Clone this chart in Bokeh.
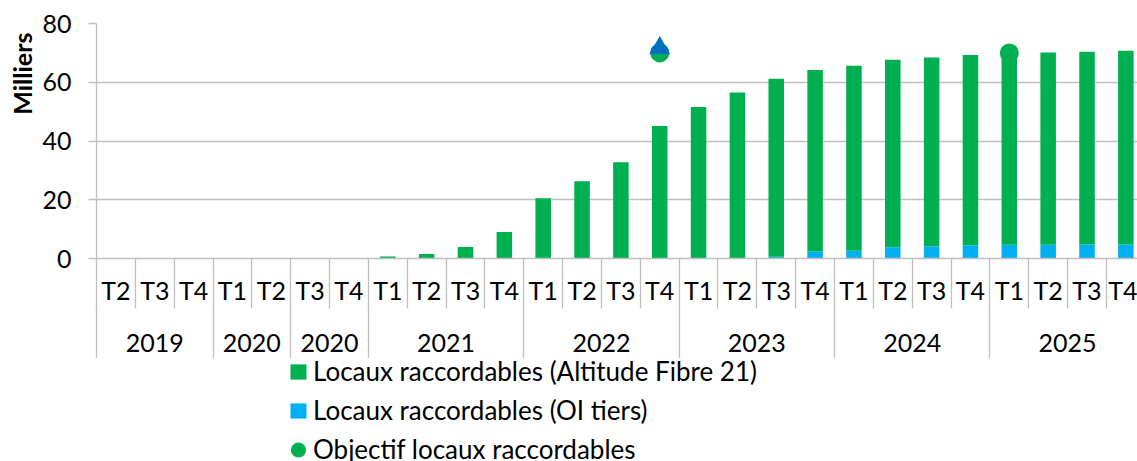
import numpy as np
from bokeh.plotting import figure
from bokeh.layouts import column
from bokeh.models import (ColumnDataSource, FixedTicker, LinearAxis, Range1d,
                          Legend, LegendItem, Title)
from bokeh.embed import file_html
from bokeh.resources import INLINE

# ---------------- data ----------------
year_groups = ["2019", "2020", "2020", "2021", "2022", "2023", "2024", "2025"]
group_sizes = [3, 2, 2, 4, 4, 4, 4, 4]
quarters = ["T2", "T3", "T4", "T1", "T2", "T3", "T4",
            "T1", "T2", "T3", "T4", "T1", "T2", "T3", "T4",
            "T1", "T2", "T3", "T4", "T1", "T2", "T3", "T4",
            "T1", "T2", "T3", "T4"]
altitude = [0, 0, 0, 0, 0, 0, 0,
            0.7, 1.5, 3.9, 9.0,
            20.5, 26.3, 32.8, 45.1,
            51.6, 56.5, 60.6, 61.7,
            63.0, 63.9, 64.2, 64.8,
            65.3, 65.4, 65.6, 65.9]
oi_tiers = [0, 0, 0, 0, 0, 0, 0,
            0, 0, 0, 0,
            0, 0, 0, 0,
            0, 0, 0.6, 2.5,
            2.6, 3.8, 4.2, 4.5,
            4.7, 4.7, 4.8, 4.8]
objectif = [None] * 14 + [70] + [None] * 8 + [70] + [None] * 3
marqueur_bleu = [None] * 14 + [71.6] + [None] * 12
series_labels = ["Locaux raccordables (Altitude Fibre 21)",
                 "Locaux raccordables (OI tiers)",
                 "Objectif locaux raccordables"]
y_ticks = [0, 20, 40, 60, 80]
y_title = "Milliers"

# ---------------- styles ----------------
GREEN = "#00B050"
BLUE = "#00B0F0"
DARKBLUE = "#0070C0"
GRID = "#BFBFBF"
FONT = "Lato"
FS = "25px"

n = len(quarters)
xs = np.arange(n, dtype=float)
obj = np.array([np.nan if v is None else v for v in objectif], dtype=float)
mb = np.array([np.nan if v is None else v for v in marqueur_bleu], dtype=float)

source = ColumnDataSource(dict(x=xs, oi=np.array(oi_tiers, float), alt=np.array(altitude, float)))
obj_src = ColumnDataSource(dict(x=xs, y=obj))
mask = ~np.isnan(mb)
drop_src = ColumnDataSource(dict(x=xs[mask], y=obj[mask], top=mb[mask]))

MAIN_H = 358
p = figure(width=1137, height=MAIN_H,
           x_range=Range1d(-0.5, 26.3), y_range=Range1d(0, 80),
           output_backend="svg", toolbar_location=None,
           x_axis_location=None,
           min_border_left=96, min_border_right=0,
           min_border_top=23, min_border_bottom=MAIN_H - 258)
p.outline_line_color = None
p.background_fill_color = "white"
p.border_fill_color = "white"
p.xgrid.visible = False
p.ygrid.grid_line_color = GRID
p.ygrid.grid_line_width = 1.3
p.ygrid.ticker = FixedTicker(ticks=y_ticks)

yax = p.yaxis[0]
yax.ticker = FixedTicker(ticks=y_ticks)
yax.axis_line_color = GRID
yax.axis_line_width = 1.3
yax.major_tick_line_color = GRID
yax.major_tick_line_width = 1.3
yax.major_tick_in = 0
yax.major_tick_out = 8
yax.minor_tick_line_color = None
yax.major_label_standoff = 17
yax.major_label_text_font = FONT
yax.major_label_text_font_size = FS
yax.major_label_text_color = "#000000"

# y title (left panel, aligned to the top)
p.add_layout(Title(text=y_title, align="right", offset=9, standoff=5,
                   text_font=FONT, text_font_size=FS, text_font_style="bold",
                   text_color="#000000"), "left")

# bars
bars = p.vbar_stack(["oi", "alt"], x="x", width=0.4, color=[BLUE, GREEN],
                    line_color=None, source=source)

# objective markers
p.scatter(x="x", y="y", source=obj_src, marker="circle", size=19,
          fill_color=GREEN, line_color=None)
p.wedge(x="x", y="y", source=drop_src, radius=9.5, radius_units="screen",
        start_angle=0, end_angle=np.pi, direction="anticlock",
        fill_color=DARKBLUE, line_color=None)
p.scatter(x="x", y="top", source=drop_src, marker="triangle", size=21,
          fill_color=DARKBLUE, line_color=None)

# category axes (quarters, then years)
boundaries = [i - 0.5 for i in range(n + 1)]
q_axis = LinearAxis(ticker=FixedTicker(ticks=list(range(n)), minor_ticks=boundaries),
                    major_label_overrides={i: q for i, q in enumerate(quarters)})
q_axis.axis_line_color = GRID
q_axis.axis_line_width = 1.3
q_axis.major_tick_line_color = None
q_axis.major_tick_in = 0
q_axis.major_tick_out = 0
q_axis.minor_tick_line_color = GRID
q_axis.minor_tick_line_width = 1.3
q_axis.minor_tick_in = 0
q_axis.minor_tick_out = 50
q_axis.major_label_standoff = -34
q_axis.major_label_text_font = FONT
q_axis.major_label_text_font_size = FS
q_axis.major_label_text_color = "#000000"
p.add_layout(q_axis, "below")

starts = np.cumsum([0] + group_sizes[:-1])
year_centers = [float(s + (g - 1) / 2) for s, g in zip(starts, group_sizes)]
year_bounds = [float(s - 0.5) for s in starts] + [float(n - 0.5)]
y_axis2 = LinearAxis(ticker=FixedTicker(ticks=year_centers, minor_ticks=year_bounds),
                     major_label_overrides={c: yv for c, yv in zip(year_centers, year_groups)})
y_axis2.axis_line_color = None
y_axis2.major_tick_line_color = None
y_axis2.major_tick_in = 0
y_axis2.major_tick_out = 0
y_axis2.minor_tick_line_color = GRID
y_axis2.minor_tick_line_width = 1.3
y_axis2.minor_tick_in = 0
y_axis2.minor_tick_out = 59
y_axis2.major_label_standoff = -33
y_axis2.major_label_text_font = FONT
y_axis2.major_label_text_font_size = FS
y_axis2.major_label_text_color = "#000000"
p.add_layout(y_axis2, "below")

# ---------------- legend strip ----------------
# same data sources, drawn in a strip whose ranges show none of the marks:
# only the legend of this strip is visible.
LEG_H = 461 - MAIN_H
lf = figure(width=1137, height=LEG_H, output_backend="svg", toolbar_location=None,
            x_axis_location=None, y_axis_location=None, min_border=0,
            x_range=Range1d(1000, 1001), y_range=Range1d(1000, 1001))
lf.outline_line_color = None
lf.grid.visible = False
lf.background_fill_color = "white"
lf.border_fill_color = "white"
g_alt = lf.vbar(x="x", top="alt", source=source, width=0.4,
                fill_color=GREEN, line_color=None)
g_oi = lf.vbar(x="x", top="oi", source=source, width=0.4,
               fill_color=BLUE, line_color=None)
g_obj = lf.ellipse(x="x", y="y", source=obj_src, width=19, height=19,
                   width_units="screen", height_units="screen",
                   fill_color=GREEN, line_color=None)

leg = Legend(items=[LegendItem(label=series_labels[0], renderers=[g_alt]),
                    LegendItem(label=series_labels[1], renderers=[g_oi]),
                    LegendItem(label=series_labels[2], renderers=[g_obj])],
             location=(192, -4), orientation="vertical",
             glyph_width=20, glyph_height=19, label_standoff=5, spacing=7,
             padding=0, margin=0, border_line_color=None, background_fill_alpha=0,
             label_text_font=FONT, label_text_font_size="26px",
             label_text_color="#000000")
lf.add_layout(leg)

page = column(p, lf, spacing=0)
open("out.html", "w").write(file_html(page, INLINE))
